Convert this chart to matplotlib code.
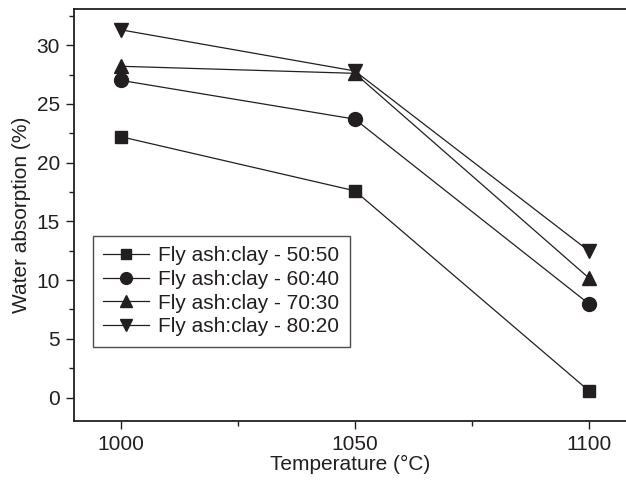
import matplotlib
matplotlib.use("Agg")
import matplotlib.pyplot as plt
from matplotlib.ticker import MultipleLocator, FixedLocator

plt.rcParams['font.family'] = ['Liberation Sans', 'DejaVu Sans']

temperature = [1000, 1050, 1100]
series_labels = ["Fly ash:clay - 50:50", "Fly ash:clay - 60:40",
                 "Fly ash:clay - 70:30", "Fly ash:clay - 80:20"]
ratio_50_50 = [22.2, 17.6, 0.6]
ratio_60_40 = [27.0, 23.7, 8.0]
ratio_70_30 = [28.2, 27.6, 10.2]
ratio_80_20 = [31.3, 27.8, 12.5]

values = [ratio_50_50, ratio_60_40, ratio_70_30, ratio_80_20]
markers = ['s', 'o', '^', 'v']
msizes = [9, 10, 10, 10]
color = '#231f20'

fig = plt.figure(figsize=(6.26, 4.84), dpi=100)
ax = fig.add_axes([0.118, 0.130, 0.882, 0.852])

for vals, lab, m, ms in zip(values, series_labels, markers, msizes):
    ax.plot(temperature, vals, color=color, lw=0.9, marker=m, markersize=ms,
            markerfacecolor=color, markeredgecolor=color, label=lab)

ax.set_xlim(989.9, 1108)
ax.set_ylim(-2.0, 33.1)
ax.xaxis.set_major_locator(FixedLocator([1000, 1050, 1100]))
ax.xaxis.set_minor_locator(FixedLocator([1025, 1075]))
ax.yaxis.set_major_locator(MultipleLocator(5))
ax.yaxis.set_minor_locator(MultipleLocator(2.5))
ax.set_yticks([0, 5, 10, 15, 20, 25, 30])

ax.tick_params(axis='both', which='major', direction='out', length=6, width=1,
               labelsize=15, color=color, labelcolor=color, pad=4)
ax.tick_params(axis='both', which='minor', direction='out', length=3.5, width=1,
               color=color)
ax.tick_params(top=False, right=False, which='both')

for s in ['left', 'bottom', 'top']:
    ax.spines[s].set_linewidth(1.3)
    ax.spines[s].set_color(color)
ax.spines['right'].set_visible(False)

ax.set_xlabel("Temperature (\u00b0C)", fontsize=15, color=color, labelpad=1)
ax.set_ylabel("Water absorption (%)", fontsize=15, color=color, labelpad=4)

leg = ax.legend(loc='lower left', bbox_to_anchor=(0.034, 0.180), borderaxespad=0,
                fontsize=15, frameon=True, fancybox=False, edgecolor=color,
                handlelength=2.2, handletextpad=0.45, labelspacing=0.23,
                borderpad=0.5, markerscale=0.85, labelcolor=color)
leg.get_frame().set_linewidth(1.0)

fig.savefig("out.png", dpi=100)
